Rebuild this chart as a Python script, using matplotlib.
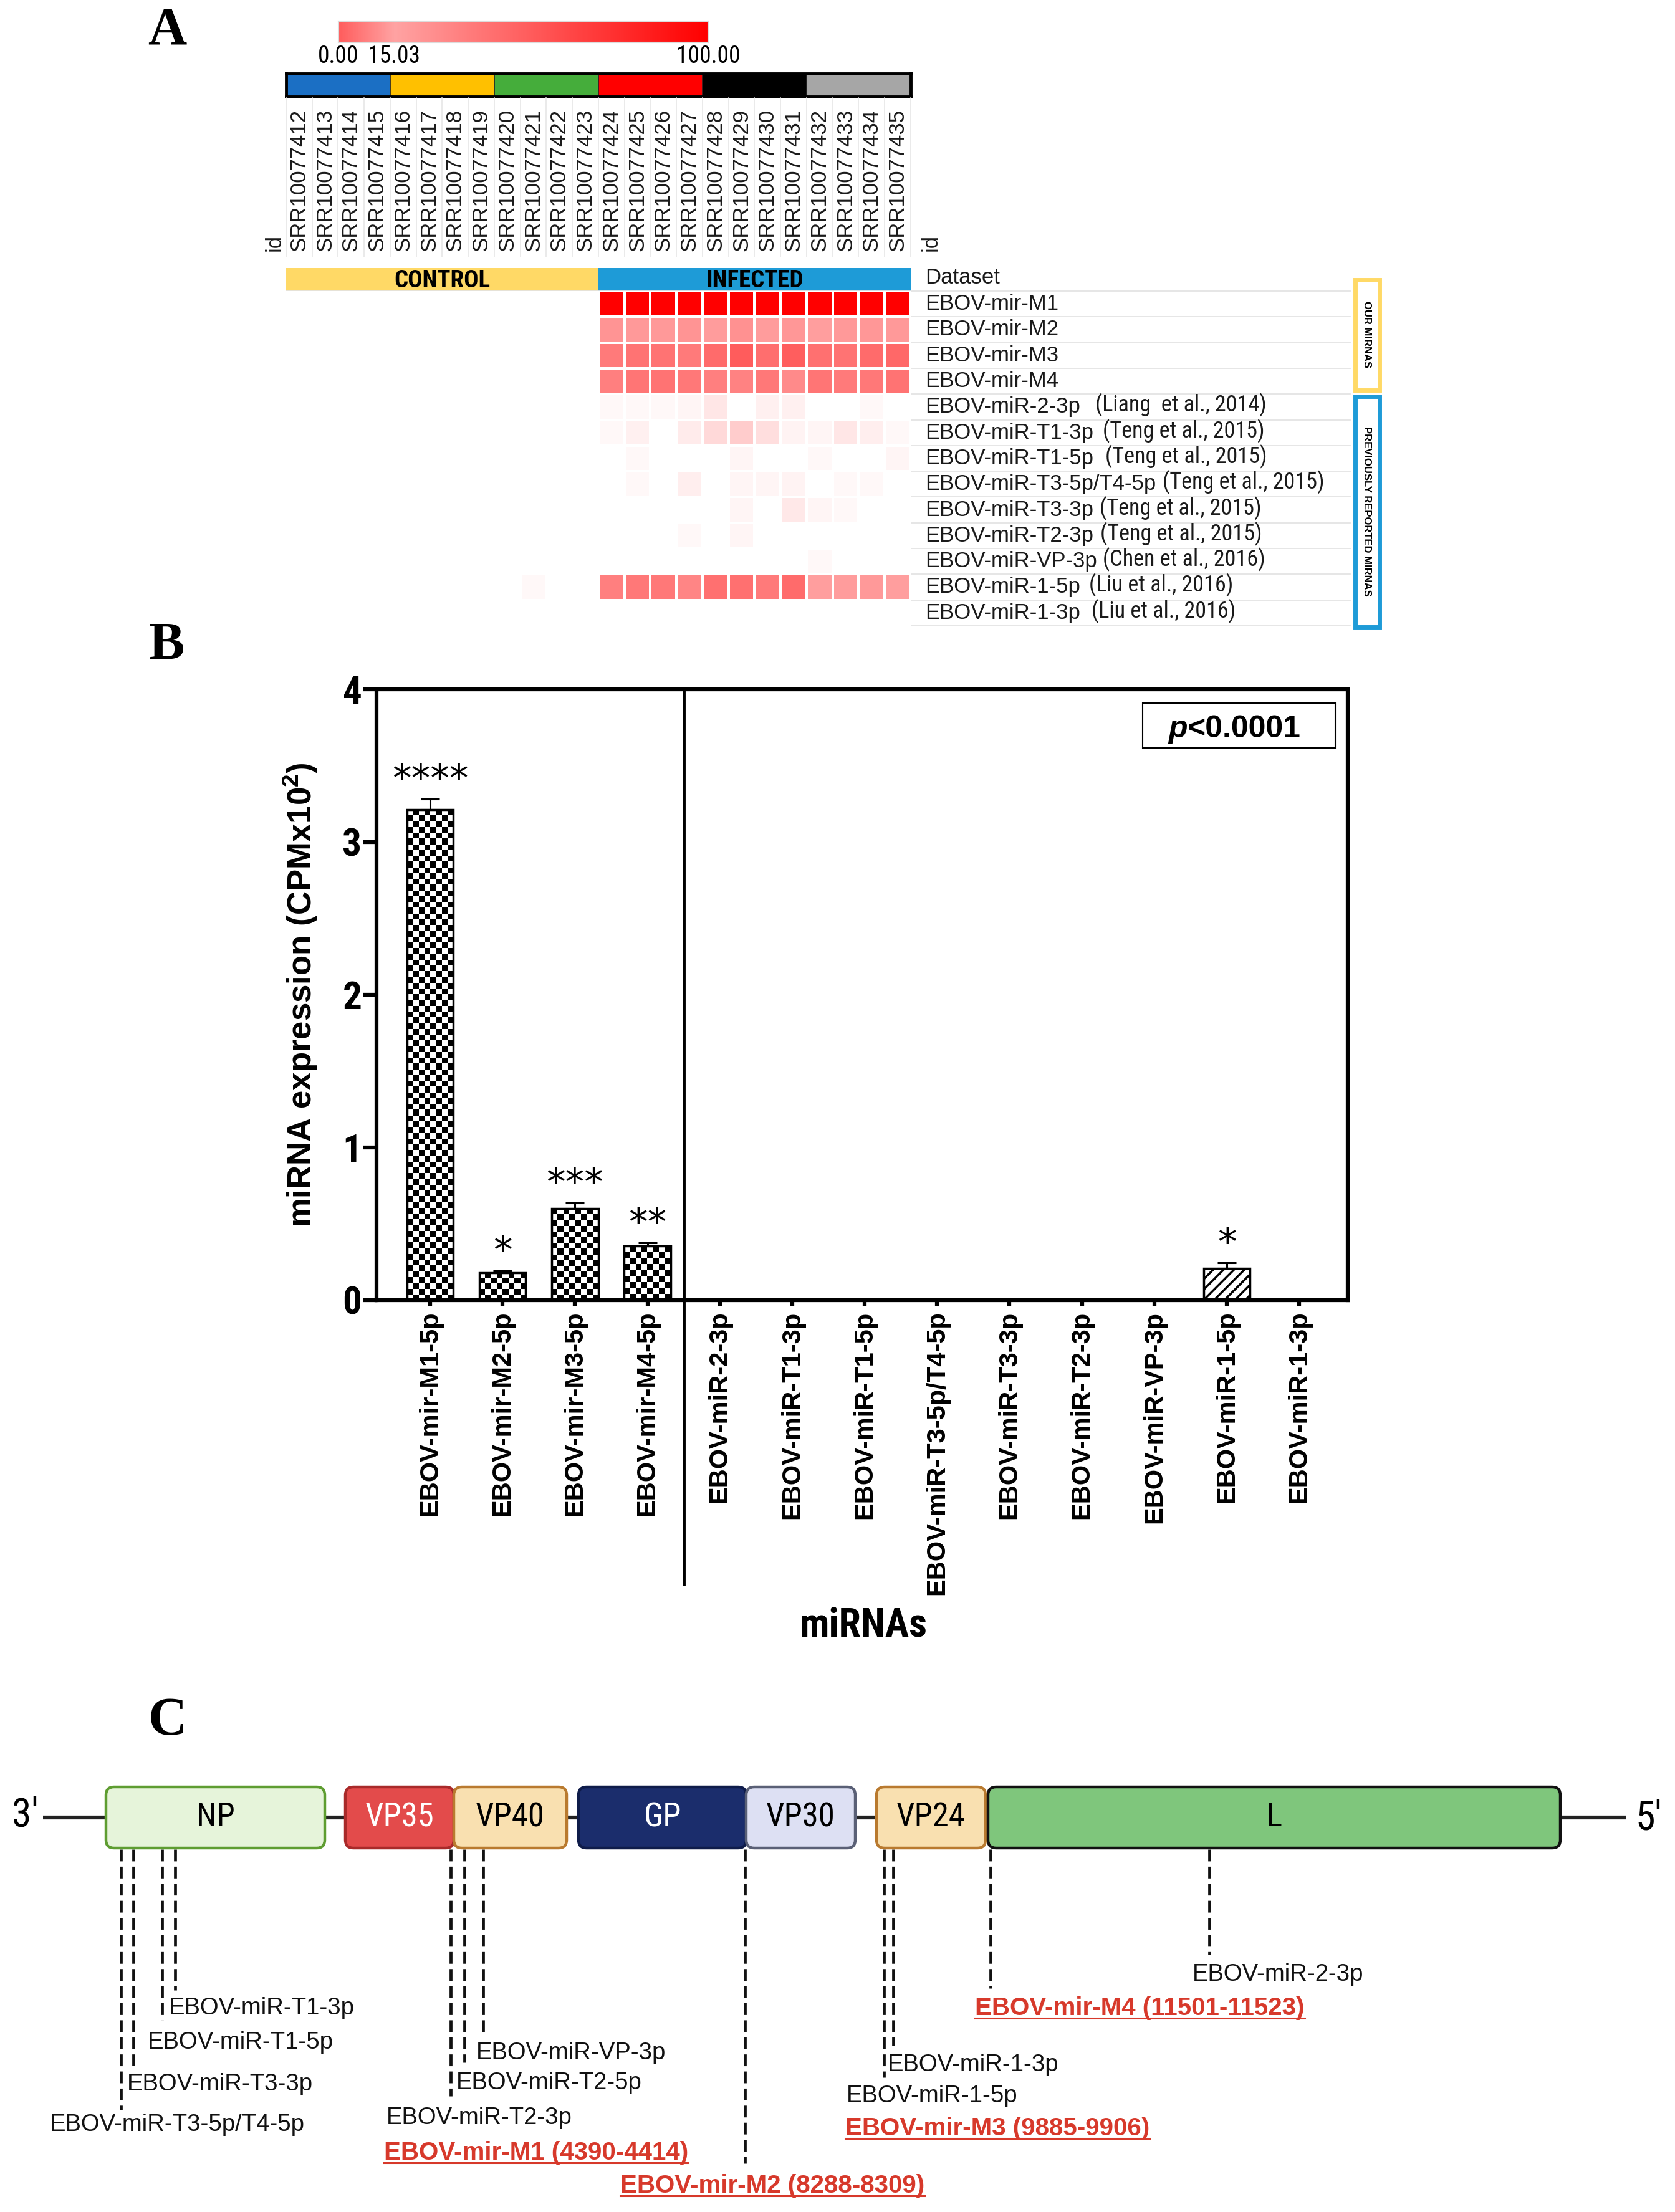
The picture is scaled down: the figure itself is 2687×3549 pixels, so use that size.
import numpy as np
import matplotlib
matplotlib.use('Agg')
import matplotlib.pyplot as plt
from matplotlib.patches import Rectangle, FancyBboxPatch
from matplotlib.colors import LinearSegmentedColormap, ListedColormap
from matplotlib import font_manager as fm

plt.rcParams['font.family'] = ['Liberation Sans', 'DejaVu Sans']
plt.rcParams['mathtext.fontset'] = 'custom'
plt.rcParams['mathtext.default'] = 'regular'
plt.rcParams['hatch.linewidth'] = 2.5

_names = {f.name for f in fm.fontManager.ttflist}
NARROW = next((n for n in ['Liberation Sans Narrow', 'Roboto Condensed', 'Arial Narrow']
               if n in _names), None)
SERIF = 'Liberation Serif' if 'Liberation Serif' in _names else 'DejaVu Serif'


def narrow(size, alt_size, **kw):
    if NARROW:
        return dict(family=NARROW, fontsize=size, **kw)
    return dict(fontsize=alt_size, **kw)


# ---------------------------------------------------------------- data: panel A
sample_ids = ['SRR10077412', 'SRR10077413', 'SRR10077414', 'SRR10077415',
              'SRR10077416', 'SRR10077417', 'SRR10077418', 'SRR10077419',
              'SRR10077420', 'SRR10077421', 'SRR10077422', 'SRR10077423',
              'SRR10077424', 'SRR10077425', 'SRR10077426', 'SRR10077427',
              'SRR10077428', 'SRR10077429', 'SRR10077430', 'SRR10077431',
              'SRR10077432', 'SRR10077433', 'SRR10077434', 'SRR10077435']
sample_group = [0, 0, 0, 0, 1, 1, 1, 1, 2, 2, 2, 2, 3, 3, 3, 3, 4, 4, 4, 4, 5, 5, 5, 5]
group_colors = ['#1b6fc4', '#ffc000', '#45ad3b', '#ff0000', '#000000', '#a6a6a6']
dataset_of_sample = [0] * 12 + [1] * 12
dataset_labels = ['CONTROL', 'INFECTED']
dataset_colors = ['#ffd966', '#1e9bd7']

heat_mirnas = ['EBOV-mir-M1', 'EBOV-mir-M2', 'EBOV-mir-M3', 'EBOV-mir-M4',
               'EBOV-miR-2-3p', 'EBOV-miR-T1-3p', 'EBOV-miR-T1-5p',
               'EBOV-miR-T3-5p/T4-5p', 'EBOV-miR-T3-3p', 'EBOV-miR-T2-3p',
               'EBOV-miR-VP-3p', 'EBOV-miR-1-5p', 'EBOV-miR-1-3p']
heat_refs = ['', '', '', '',
             '(Liang  et al., 2014)', '(Teng et al., 2015)', '(Teng et al., 2015)',
             '(Teng et al., 2015)', '(Teng et al., 2015)', '(Teng et al., 2015)',
             '(Chen et al., 2016)', '(Liu et al., 2016)', '(Liu et al., 2016)']
heat_values = [
    [0, 0, 0, 0, 0, 0, 0, 0, 0, 0, 0, 0, 100, 100, 100, 100, 100, 100, 100, 100, 100, 100, 100, 100],
    [0, 0, 0, 0, 0, 0, 0, 0, 0, 0, 0, 0, 42, 40, 40, 42, 39, 43, 39, 41, 38, 40, 41, 40],
    [0, 0, 0, 0, 0, 0, 0, 0, 0, 0, 0, 0, 52, 55, 55, 52, 58, 64, 57, 63, 56, 55, 58, 59],
    [0, 0, 0, 0, 0, 0, 0, 0, 0, 0, 0, 0, 50, 54, 55, 53, 50, 49, 53, 46, 54, 52, 53, 55],
    [0, 0, 0, 0, 0, 0, 0, 0, 0, 0, 0, 0, 3, 3, 3, 4, 10, 0, 6, 6, 0, 0, 3, 0],
    [0, 0, 0, 0, 0, 0, 0, 0, 0, 0, 0, 0, 3, 6, 0, 8, 15, 20, 13, 5, 4, 10, 7, 3],
    [0, 0, 0, 0, 0, 0, 0, 0, 0, 0, 0, 0, 0, 3, 0, 0, 0, 4, 0, 0, 3, 0, 0, 4],
    [0, 0, 0, 0, 0, 0, 0, 0, 0, 0, 0, 0, 0, 3, 0, 7, 0, 4, 4, 5, 0, 3, 3, 0],
    [0, 0, 0, 0, 0, 0, 0, 0, 0, 0, 0, 0, 0, 0, 0, 0, 0, 4, 0, 9, 4, 3, 0, 0],
    [0, 0, 0, 0, 0, 0, 0, 0, 0, 0, 0, 0, 0, 0, 0, 3, 0, 4, 0, 0, 0, 0, 0, 0],
    [0, 0, 0, 0, 0, 0, 0, 0, 0, 0, 0, 0, 0, 0, 0, 0, 0, 0, 0, 0, 3, 0, 0, 0],
    [0, 0, 0, 0, 0, 0, 0, 0, 0, 3, 0, 0, 50, 53, 53, 48, 56, 56, 52, 58, 38, 39, 40, 38],
    [0, 0, 0, 0, 0, 0, 0, 0, 0, 0, 0, 0, 0, 0, 0, 0, 0, 0, 0, 0, 0, 0, 0, 0],
]
cbar_ticks = [0.00, 15.03, 100.00]
cbar_colors = ['#ff5e5e', '#ffa3a3', '#ff0000']

# ---------------------------------------------------------------- data: panel B
bar_labels = ['EBOV-mir-M1-5p', 'EBOV-mir-M2-5p', 'EBOV-mir-M3-5p', 'EBOV-mir-M4-5p',
              'EBOV-miR-2-3p', 'EBOV-miR-T1-3p', 'EBOV-miR-T1-5p', 'EBOV-miR-T3-5p/T4-5p',
              'EBOV-miR-T3-3p', 'EBOV-miR-T2-3p', 'EBOV-miR-VP-3p', 'EBOV-miR-1-5p',
              'EBOV-miR-1-3p']
bar_values = [3.21, 0.18, 0.60, 0.355, 0, 0, 0, 0, 0, 0, 0, 0.205, 0]
bar_errors = [0.07, 0.01, 0.035, 0.02, 0, 0, 0, 0, 0, 0, 0, 0.04, 0]
bar_sig = ['****', '*', '***', '**', '', '', '', '', '', '', '', '*', '']
bar_fill = ['checker', 'checker', 'checker', 'checker', 'none', 'none', 'none', 'none',
            'none', 'none', 'none', 'hatch', 'none']
p_text = '<0.0001'

# ---------------------------------------------------------------- data: panel C
genes = ['NP', 'VP35', 'VP40', 'GP', 'VP30', 'VP24', 'L']
gene_start = [170, 554, 728, 928, 1197, 1406, 1585]
gene_end = [521, 728, 909, 1197, 1372, 1581, 2503]
gene_face = ['#e6f4da', '#e34b4b', '#f9e0b0', '#1b2d6c', '#dde0f3', '#f9e0b0', '#7fc67c']
gene_edge = ['#5e9d31', '#a82a2a', '#b97a2f', '#0f1c4a', '#5a6076', '#b97a2f', '#111111']
gene_text = ['black', 'white', 'black', 'white', 'black', 'black', 'black']
site_x = [194, 214, 260, 281, 723, 745, 775, 1195, 1418, 1433, 1589, 1940]
site_end = [3385, 3314, 3241, 3193, 3363, 3309, 3263, 3471, 3333, 3282, 3190, 3136]
site_labels = ['EBOV-miR-T3-5p/T4-5p', 'EBOV-miR-T3-3p', 'EBOV-miR-T1-5p', 'EBOV-miR-T1-3p',
               'EBOV-miR-VP-3p', 'EBOV-miR-T2-5p', 'EBOV-miR-T2-3p',
               'EBOV-mir-M1 (4390-4414)', 'EBOV-mir-M2 (8288-8309)',
               'EBOV-miR-1-3p', 'EBOV-miR-1-5p', 'EBOV-mir-M3 (9885-9906)',
               'EBOV-mir-M4 (11501-11523)', 'EBOV-miR-2-3p']
site_label_x = [80, 204, 237, 271, 764, 732, 620, 616, 995, 1424, 1358, 1356, 1564, 1913]
site_label_y = [3409, 3344, 3277, 3222, 3294, 3342, 3398, 3454, 3507, 3313, 3363, 3415, 3222, 3168]
site_is_ours = [False, False, False, False, False, False, False, True, True,
                False, False, True, True, False]

# ---------------------------------------------------------------- figure
W, H = 2687, 3549
fig = plt.figure(figsize=(W / 100, H / 100), dpi=100, facecolor='white')


def fig_rect(x0, y0, x1, y1):
    return [x0 / W, 1 - y1 / H, (x1 - x0) / W, (y1 - y0) / H]


ax0 = fig.add_axes([0, 0, 1, 1])
ax0.set_xlim(0, W)
ax0.set_ylim(H, 0)
ax0.axis('off')

for letter, (lx, ly) in zip('ABC', [(268, 50), (267, 1037), (269, 2762)]):
    ax0.text(lx, ly, letter, fontsize=62, fontweight='bold', family=SERIF,
             ha='center', va='center')

# ---------------- colorbar
ax_cb = fig.add_axes(fig_rect(543, 34, 1136, 68))
cb_cmap = LinearSegmentedColormap.from_list(
    'cb', list(zip([t / 100 for t in cbar_ticks], cbar_colors)))
ax_cb.imshow(np.linspace(0, 100, 400)[None, :], cmap=cb_cmap, vmin=0, vmax=100,
             aspect='auto', extent=(0, 100, 0, 1))
ax_cb.set_xticks([])
ax_cb.set_yticks([])
for s in ax_cb.spines.values():
    s.set_color('#dcdcdc')
    s.set_linewidth(1.5)
for t in cbar_ticks:
    ax_cb.text(t, -0.66, f'{t:.2f}', ha='center', va='center', clip_on=False,
               transform=ax_cb.transData, **narrow(27, 23))

# ---------------- group strip
HX0, HX1 = 458.8, 1461.0
ax_g = fig.add_axes(fig_rect(HX0, 118, HX1, 155))
ax_g.imshow(np.array([sample_group]), cmap=ListedColormap(group_colors),
            vmin=-0.5, vmax=len(group_colors) - 0.5, aspect='auto',
            interpolation='nearest', extent=(0, len(sample_ids), 0, 1))
for i in range(1, len(sample_group)):
    if sample_group[i] != sample_group[i - 1]:
        ax_g.axvline(i, color='#222222', lw=1.2)
ax_g.set_xticks([])
ax_g.set_yticks([])
for s in ax_g.spines.values():
    s.set_linewidth(3.5)

# ---------------- dataset strip
ax_d = fig.add_axes(fig_rect(HX0, 429.6, HX1, 466.7))
ax_d.imshow(np.array([dataset_of_sample]), cmap=ListedColormap(dataset_colors),
            vmin=-0.5, vmax=1.5, aspect='auto', interpolation='nearest',
            extent=(0, len(sample_ids), 0, 1))
for k, lab in enumerate(dataset_labels):
    idx = [i for i, d in enumerate(dataset_of_sample) if d == k]
    ax_d.text((min(idx) + max(idx) + 1) / 2, 0.45, lab, ha='center', va='center',
              **narrow(28, 24, fontweight='bold'))
ax_d.axis('off')

# ---------------- heatmap
ROWH = 41.3
ax_h = fig.add_axes(fig_rect(HX0, 467, HX1, 467 + ROWH * len(heat_mirnas)))
vals = np.array(heat_values, dtype=float)
heat_cmap = LinearSegmentedColormap.from_list('wr', ['#ffffff', '#ff0000'])
nrow, ncol = vals.shape
x_right = (2166 - HX0) / ((HX1 - HX0) / ncol)
for k in range(nrow + 1):
    ax_h.plot([0, x_right], [k, k], color='#e4e4e4', lw=1.3, zorder=0, clip_on=False)
ax_h.pcolormesh(np.ma.masked_equal(vals, 0), cmap=heat_cmap, vmin=0, vmax=100,
                edgecolors='white', linewidth=2.6, zorder=1)
ax_h.set_xlim(0, ncol)
ax_h.set_ylim(nrow, 0)
ax_h.axis('off')

colw = (HX1 - HX0) / ncol
x_lab = ncol + (1484 - HX1) / colw
y_lab_bottom = (403 - 467) / ROWH
y_sep_top = (157 - 467) / ROWH
y_sep_bot = (412 - 467) / ROWH
for k in range(ncol + 1):
    ax_h.plot([k, k], [y_sep_top, y_sep_bot], color='#e6e6e6', lw=1.2, clip_on=False, zorder=0)
for i, sid in enumerate(sample_ids):
    ax_h.text(i + 0.5, y_lab_bottom, sid, rotation=90, ha='center', va='bottom',
              fontsize=25, color='#1a1a1a', clip_on=False)
ax_h.text((440 - HX0) / colw, y_lab_bottom, 'id', rotation=90, ha='center',
          va='bottom', fontsize=25, color='#1a1a1a', clip_on=False)
ax_h.text((1493 - HX0) / colw, y_lab_bottom, 'id', rotation=90, ha='center',
          va='bottom', fontsize=25, color='#1a1a1a', clip_on=False)
ax_h.text(x_lab, -0.53, 'Dataset', ha='left', va='center', fontsize=25,
          color='#1a1a1a', clip_on=False)
ref_gap_px = [0, 0, 0, 0, 24, 15, 19, 11, 10, 11, 9, 14, 18]
for i, (name, ref) in enumerate(zip(heat_mirnas, heat_refs)):
    t = ax_h.text(x_lab, i + 0.5, name, ha='left', va='center', fontsize=25,
                  color='#1a1a1a', clip_on=False)
    if ref:
        ax_h.annotate(ref, xy=(1, 0), xycoords=t, xytext=(ref_gap_px[i] * 0.72, 0),
                      textcoords='offset points', ha='left', va='bottom',
                      color='#1a1a1a', annotation_clip=False, **narrow(26, 22))

# group boxes on the right
for (y0, y1, col, txt) in [(445, 629, '#ffd966', 'OUR MIRNAS'),
                           (632, 1009, '#1e9bd7', 'PREVIOUSLY REPORTED MIRNAS')]:
    ax0.add_patch(Rectangle((2173.5, y0 + 3.5), 39, y1 - y0 - 7, fc='white',
                            ec=col, lw=5))
    ax0.text(2193, (y0 + y1) / 2, txt, rotation=270, ha='center', va='center',
             fontsize=12, fontweight='bold')

# ---------------------------------------------------------------- panel B
BX0, BX1, BY0, BY1 = 604, 2162, 1106, 2085.6
axb = fig.add_axes(fig_rect(BX0, BY0, BX1, BY1))
axb.patch.set_visible(False)
xpos = np.arange(len(bar_labels))
XL = (-0.74, 12.67)
YL = (0, 4)
axb.set_xlim(*XL)
axb.set_ylim(*YL)
bw = 0.64
checker_cmap = ListedColormap(['white', 'black'])
for xi, v, e, fill in zip(xpos, bar_values, bar_errors, bar_fill):
    if v <= 0:
        continue
    if fill == 'hatch':
        axb.bar(xi, v, width=bw, facecolor='white', edgecolor='black', hatch='//',
                linewidth=2.5, zorder=2)
    else:
        b = axb.bar(xi, v, width=bw, facecolor='white', edgecolor='none', zorder=2)[0]
        p0 = axb.transData.transform((xi - bw / 2, 0))
        p1 = axb.transData.transform((xi + bw / 2, v))
        ncc = 8
        cell = (p1[0] - p0[0]) / ncc
        nrr = max(1, int(round((p1[1] - p0[1]) / cell)))
        chk = np.add.outer(np.arange(nrr), np.arange(ncc)) % 2
        im = axb.imshow(chk, cmap=checker_cmap, vmin=0, vmax=1, origin='lower',
                        extent=(xi - bw / 2, xi + bw / 2, 0, v), aspect='auto',
                        interpolation='nearest', zorder=2.5)
        im.set_clip_path(b)
        axb.bar(xi, v, width=bw, fill=False, edgecolor='black', linewidth=2.5, zorder=3)
    axb.errorbar(xi, v, yerr=[[0], [e]], fmt='none', ecolor='black', elinewidth=2.2,
                 capsize=11, capthick=2.2, zorder=4)
for xi, v, e, s in zip(xpos, bar_values, bar_errors, bar_sig):
    if s:
        axb.text(xi, v + e + 0.12, ' '.join(s) if False else s, ha='center',
                 va='center', fontsize=44, family='DejaVu Sans', zorder=5)
axb.set_xlim(*XL)
axb.set_ylim(*YL)
axb.set_aspect('auto')

for s in axb.spines.values():
    s.set_linewidth(4.5)
axb.set_yticks([0, 1, 2, 3, 4])
axb.set_yticklabels(['0', '1', '2', '3', '4'], **narrow(44, 38, fontweight='bold'))
axb.tick_params(axis='y', length=15, width=4.5, pad=2)
axb.set_xticks(xpos)
axb.set_xticklabels(bar_labels, rotation=90, fontsize=30, fontweight='bold',
                    ha='center', va='top')
axb.tick_params(axis='x', length=7, width=4.5, pad=6)
ybot = axb.transData.inverted().transform((0, H - 2542))[1]
axb.plot([3.5, 3.5], [YL[1], ybot], color='black', lw=3.5, clip_on=False, zorder=6)
axb.set_ylabel('miRNA expression (CPMx10$^{2}$)', fontsize=38, fontweight='bold',
               va='center')
axb.yaxis.set_label_coords((482 - BX0) / (BX1 - BX0), 0.5)
axb.set_xlabel('miRNAs', va='center', **narrow(46, 39, fontweight='bold'))
axb.xaxis.set_label_coords((1385 - BX0) / (BX1 - BX0), -(2608 - BY1) / (BY1 - BY0))

# p-value box
ax0.add_patch(Rectangle((1833, 1128), 309, 72, fc='white', ec='black', lw=1.5, zorder=1))
ax0.text(1905, 1183, 'p', fontsize=36, fontweight='bold', fontstyle='italic',
         ha='right', va='baseline')
ax0.text(1905, 1183, p_text, fontsize=36, fontweight='bold', ha='left', va='baseline')

# ---------------------------------------------------------------- panel C
GY0, GY1 = 2867, 2965
GLINE = 2915.5
ax0.plot([69, 2609], [GLINE, GLINE], color='#222222', lw=4.5, zorder=1,
         solid_capstyle='butt')
ax0.text(40, GLINE - 3, "3'", ha='center', va='center', **narrow(46, 40))
ax0.text(2645, GLINE + 2, "5'", ha='center', va='center', **narrow(46, 40))
for g, x0, x1, fc, ec, tc in zip(genes, gene_start, gene_end, gene_face, gene_edge, gene_text):
    ax0.add_patch(FancyBboxPatch((x0, GY0), x1 - x0, GY1 - GY0,
                                 boxstyle='round,pad=0,rounding_size=13',
                                 fc=fc, ec=ec, lw=3.2, zorder=3))
    ax0.text((x0 + x1) / 2, (GY0 + GY1) / 2, g, ha='center', va='center',
             color=tc, zorder=4, **narrow(38, 33))
for sx, se in zip(site_x, site_end):
    ax0.plot([sx, sx], [GY1 + 2, se], color='#111111', lw=3.4,
             linestyle=(0, (4.0, 1.8)), zorder=2)
red_texts = []
for lab, lx, ly, ours in zip(site_labels, site_label_x, site_label_y, site_is_ours):
    if ours:
        t = ax0.text(lx, ly, lab, ha='left', va='center', fontsize=29,
                     fontweight='bold', color='#d7392b', zorder=5)
        red_texts.append(t)
    else:
        ax0.text(lx, ly, lab, ha='left', va='center', fontsize=27.5,
                 color='#111111', zorder=5)

fig.canvas.draw()
renderer = fig.canvas.get_renderer()
inv = ax0.transData.inverted()
for t in red_texts:
    bb = t.get_window_extent(renderer)
    (ux0, uy), (ux1, _) = inv.transform([(bb.x0, bb.y0), (bb.x1, bb.y0)])
    ax0.plot([ux0, ux1], [uy - 3, uy - 3], color='#d7392b', lw=2.2, zorder=5)

ax0.set_xlim(0, W)
ax0.set_ylim(H, 0)
fig.savefig('out.png', dpi=100, facecolor='white')
